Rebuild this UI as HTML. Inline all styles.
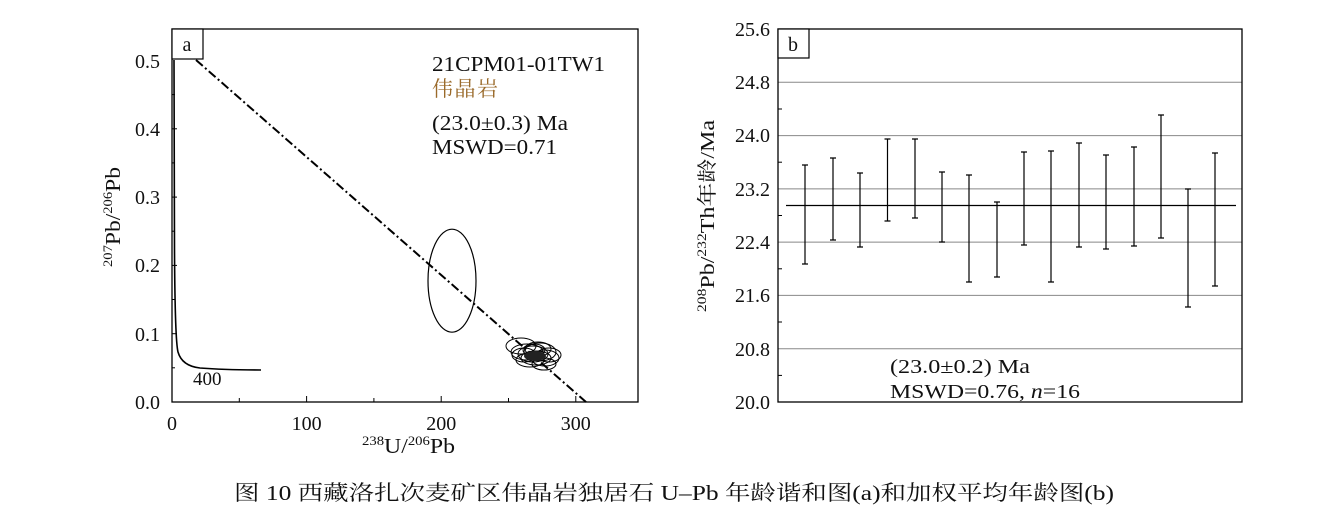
<!DOCTYPE html>
<html><head><meta charset="utf-8"><style>
html,body{margin:0;padding:0;background:#fff;}
svg{display:block;}
text{font-family:"Liberation Serif","Noto Serif CJK SC",serif;fill:#111;}
</style></head><body>
<svg width="1340" height="529" viewBox="0 0 1340 529" xmlns="http://www.w3.org/2000/svg">
<!-- Panel a -->
<rect x="172" y="29" width="466" height="373" fill="none" stroke="#000" stroke-width="1.3"/>
<g stroke="#000" stroke-width="1">
<line x1="306.6" y1="402" x2="306.6" y2="396"/><line x1="441.2" y1="402" x2="441.2" y2="396"/><line x1="575.8" y1="402" x2="575.8" y2="396"/>
<line x1="239.3" y1="402" x2="239.3" y2="398"/><line x1="373.9" y1="402" x2="373.9" y2="398"/><line x1="508.5" y1="402" x2="508.5" y2="398"/>
<line x1="172" y1="333.7" x2="177" y2="333.7"/><line x1="172" y1="265.4" x2="177" y2="265.4"/><line x1="172" y1="197.1" x2="177" y2="197.1"/><line x1="172" y1="128.8" x2="177" y2="128.8"/>
<line x1="172" y1="367.8" x2="175" y2="367.8"/><line x1="172" y1="299.5" x2="175" y2="299.5"/><line x1="172" y1="231.2" x2="175" y2="231.2"/><line x1="172" y1="162.9" x2="175" y2="162.9"/><line x1="172" y1="94.6" x2="175" y2="94.6"/>
</g>
<rect x="172" y="29" width="31" height="30" fill="#fff" stroke="#000" stroke-width="1.2"/>
<text x="187" y="51" font-size="20" text-anchor="middle">a</text>
<g font-size="20" text-anchor="end">
<text x="160" y="409">0.0</text><text x="160" y="341">0.1</text><text x="160" y="272">0.2</text><text x="160" y="204">0.3</text><text x="160" y="136">0.4</text><text x="160" y="68">0.5</text>
</g>
<g font-size="20" text-anchor="middle">
<text x="172" y="430">0</text><text x="306.6" y="430">100</text><text x="441.2" y="430">200</text><text x="575.8" y="430">300</text>
</g>
<text x="362" y="453" font-size="21" textLength="93" lengthAdjust="spacingAndGlyphs"><tspan font-size="13" dy="-8">238</tspan><tspan dy="8">U/</tspan><tspan font-size="13" dy="-8">206</tspan><tspan dy="8">Pb</tspan></text>
<text transform="translate(120,267) rotate(-90)" font-size="21" textLength="100" lengthAdjust="spacingAndGlyphs"><tspan font-size="13" dy="-8">207</tspan><tspan dy="8">Pb/</tspan><tspan font-size="13" dy="-8">206</tspan><tspan dy="8">Pb</tspan></text>
<line x1="196" y1="60" x2="586" y2="402" stroke="#000" stroke-width="2" stroke-dasharray="9,3,2,3"/>
<path d="M174,60 L174.5,250 Q175,340 178,352 Q182,366 200,368 Q225,370 261,370" fill="none" stroke="#000" stroke-width="1.6"/>
<text x="193" y="385" font-size="19">400</text>
<ellipse cx="452" cy="280.7" rx="24" ry="51.5" fill="none" stroke="#000" stroke-width="1.2"/>
<g fill="none" stroke="#000" stroke-width="1">
<ellipse cx="521" cy="346" rx="15" ry="8"/><ellipse cx="527" cy="352" rx="16" ry="8"/><ellipse cx="533" cy="354" rx="15" ry="8"/>
<ellipse cx="540" cy="352" rx="16" ry="9"/><ellipse cx="536" cy="358" rx="15" ry="7"/><ellipse cx="545" cy="358" rx="14" ry="8"/>
<ellipse cx="530" cy="360" rx="14" ry="7"/><ellipse cx="544" cy="364" rx="12" ry="6"/><ellipse cx="538" cy="349" rx="13" ry="7"/>
<ellipse cx="549" cy="355" rx="12" ry="7"/><ellipse cx="524" cy="355" rx="12" ry="7"/><ellipse cx="534" cy="350" rx="11" ry="6"/>
</g>
<ellipse cx="535" cy="356" rx="11" ry="5" fill="#222"/>
<text x="432" y="71" font-size="21" textLength="173" lengthAdjust="spacingAndGlyphs">21CPM01-01TW1</text>
<text x="432" y="96" font-size="21" style="fill:#9a6a2a" font-family="Noto Serif CJK SC, serif" textLength="66">伟晶岩</text>
<text x="432" y="130" font-size="21" textLength="136" lengthAdjust="spacingAndGlyphs">(23.0±0.3) Ma</text>
<text x="432" y="154" font-size="21" textLength="125" lengthAdjust="spacingAndGlyphs">MSWD=0.71</text>

<!-- Panel b -->
<g stroke="#888" stroke-width="1">
<line x1="778" y1="82.3" x2="1242" y2="82.3"/><line x1="778" y1="135.6" x2="1242" y2="135.6"/><line x1="778" y1="188.9" x2="1242" y2="188.9"/>
<line x1="778" y1="242.1" x2="1242" y2="242.1"/><line x1="778" y1="295.4" x2="1242" y2="295.4"/><line x1="778" y1="348.7" x2="1242" y2="348.7"/>
</g>
<rect x="778" y="29" width="464" height="373" fill="none" stroke="#000" stroke-width="1.3"/>
<g stroke="#000" stroke-width="1">
<line x1="778" y1="109" x2="782" y2="109"/><line x1="778" y1="162.2" x2="782" y2="162.2"/><line x1="778" y1="215.5" x2="782" y2="215.5"/><line x1="778" y1="268.8" x2="782" y2="268.8"/><line x1="778" y1="322" x2="782" y2="322"/><line x1="778" y1="375.4" x2="782" y2="375.4"/>
</g>
<rect x="778" y="29" width="31" height="29" fill="#fff" stroke="#000" stroke-width="1.2"/>
<text x="793" y="51" font-size="20" text-anchor="middle">b</text>
<g font-size="20" text-anchor="end">
<text x="770" y="36">25.6</text><text x="770" y="89">24.8</text><text x="770" y="142">24.0</text><text x="770" y="196">23.2</text>
<text x="770" y="249">22.4</text><text x="770" y="302">21.6</text><text x="770" y="356">20.8</text><text x="770" y="409">20.0</text>
</g>
<text transform="translate(714,312) rotate(-90)" font-size="20" textLength="192" lengthAdjust="spacingAndGlyphs"><tspan font-size="13" dy="-8">208</tspan><tspan dy="8">Pb/</tspan><tspan font-size="13" dy="-8">232</tspan><tspan dy="8">Th年龄/Ma</tspan></text>
<line x1="786" y1="205.5" x2="1236" y2="205.5" stroke="#000" stroke-width="1.3"/>
<g stroke="#000" stroke-width="1.2">
<path d="M805,165V264M802,165H808M802,264H808"/>
<path d="M833,158V240M830,158H836M830,240H836"/>
<path d="M860,173V247M857,173H863M857,247H863"/>
<path d="M887.5,139V221M884.5,139H890.5M884.5,221H890.5"/>
<path d="M915,139V218M912,139H918M912,218H918"/>
<path d="M942,172V242M939,172H945M939,242H945"/>
<path d="M969,175V282M966,175H972M966,282H972"/>
<path d="M997,202V277M994,202H1000M994,277H1000"/>
<path d="M1024,152V245M1021,152H1027M1021,245H1027"/>
<path d="M1051,151V282M1048,151H1054M1048,282H1054"/>
<path d="M1079,143V247M1076,143H1082M1076,247H1082"/>
<path d="M1106,155V249M1103,155H1109M1103,249H1109"/>
<path d="M1134,147V246M1131,147H1137M1131,246H1137"/>
<path d="M1161,115V238M1158,115H1164M1158,238H1164"/>
<path d="M1188,189V307M1185,189H1191M1185,307H1191"/>
<path d="M1215,153V286M1212,153H1218M1212,286H1218"/>
</g>
<text x="890" y="373" font-size="20" textLength="140" lengthAdjust="spacingAndGlyphs">(23.0±0.2) Ma</text>
<text x="890" y="398" font-size="20" textLength="190" lengthAdjust="spacingAndGlyphs">MSWD=0.76, <tspan font-style="italic">n</tspan>=16</text>

<text x="234" y="500" font-size="21" textLength="880" lengthAdjust="spacingAndGlyphs">图 10  西藏洛扎次麦矿区伟晶岩独居石 U–Pb 年龄谐和图(a)和加权平均年龄图(b)</text>
</svg>
</body></html>
